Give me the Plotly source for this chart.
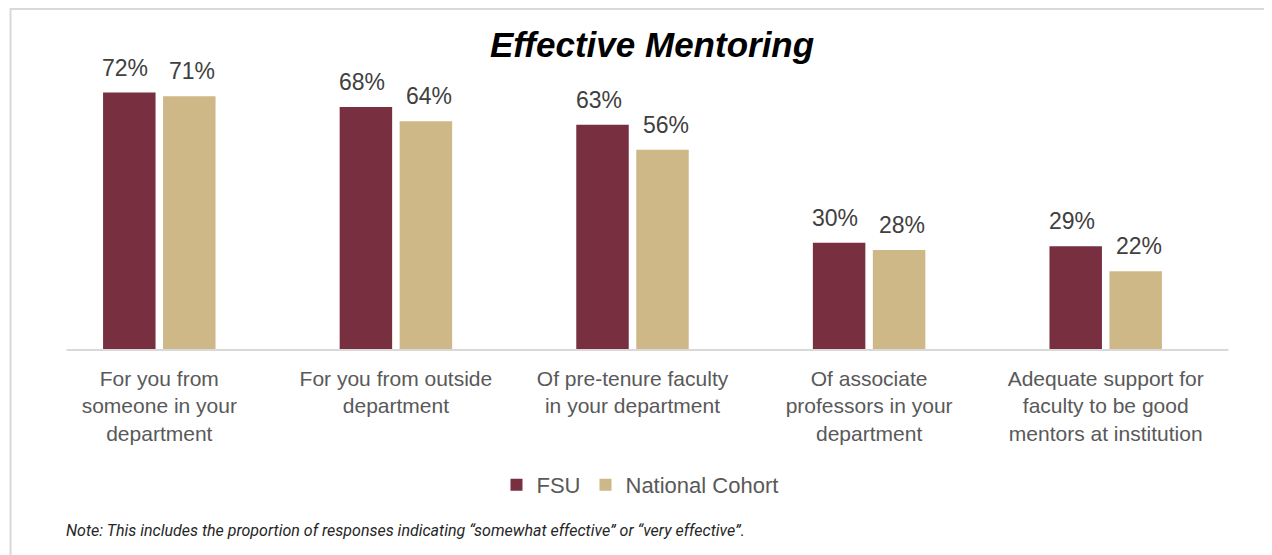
import plotly.graph_objects as go

categories = [
    "For you from<br>someone in your<br>department",
    "For you from outside<br>department",
    "Of pre-tenure faculty<br>in your department",
    "Of associate<br>professors in your<br>department",
    "Adequate support for<br>faculty to be good<br>mentors at institution",
]
fsu = [72, 68, 63, 30, 29]
national = [71, 64, 56, 28, 22]
series_names = ["FSU", "National Cohort"]
colors = ["#782F40", "#CEB888"]

# page has an 8px body margin; work in page pixel coordinates
OFF = 8
W, H = 1272 - OFF, 555 - OFF
PL, PR, PT, PB = 40.5, 1224.5, 64, 350  # plot area in page coords
L = PL - OFF
R = W - (PR - OFF)
T = PT - OFF
B = H - (PB - OFF)
pw, ph = PR - PL, PB - PT


def px_x(x):
    return (x - PL) / pw


def px_y(y):
    return (PB - y) / ph


FONT = "Liberation Sans, Arial, sans-serif"

fig = go.Figure()
for name, vals, col in zip(series_names, [fsu, national], colors):
    fig.add_trace(go.Bar(
        name=name, x=categories, y=vals, marker=dict(color=col, line=dict(width=0)),
    ))

annotations = []
for vals, shift in [(fsu, -34), (national, 33)]:
    for c, v in zip(categories, vals):
        annotations.append(dict(
            x=c, y=v, xref="x", yref="y", text=f"{v}%", showarrow=False,
            xshift=shift, yshift=10, yanchor="bottom",
            font=dict(size=23, color="#404040", family=FONT),
        ))

annotations.append(dict(
    x=px_x(652), y=px_y(45), xref="paper", yref="paper",
    text="<b><i>Effective Mentoring</i></b>", showarrow=False,
    xanchor="center", yanchor="middle",
    font=dict(size=35, color="#000000", family=FONT),
))
annotations.append(dict(
    x=px_x(64), y=px_y(530), xref="paper", yref="paper",
    text="<i>Note: This includes the proportion of responses indicating “somewhat effective” or “very effective”.</i>",
    showarrow=False, xanchor="left", yanchor="middle",
    font=dict(size=16, color="#262626", family="Roboto, Liberation Sans, sans-serif"),
))

shapes = [
    dict(type="rect", xref="paper", yref="paper",
         x0=px_x(10), x1=px_x(1290), y0=px_y(570), y1=px_y(9),
         line=dict(color="#D9D9D9", width=2), layer="below"),
    dict(type="line", xref="paper", yref="paper",
         x0=px_x(66), x1=px_x(1229), y0=0, y1=0,
         line=dict(color="#D9D9D9", width=2)),
]

fig.update_layout(
    width=W, height=H,
    margin=dict(l=L, r=R, t=T, b=B, autoexpand=False),
    paper_bgcolor="white", plot_bgcolor="white",
    barmode="group", bargap=0.493, bargroupgap=0.125,
    font=dict(family=FONT, color="#595959", size=21),
    xaxis=dict(showline=False, ticks="", showgrid=False,
               tickfont=dict(size=21, color="#595959"), ticklabelstandoff=14,
               range=[-0.5, 4.5]),
    yaxis=dict(visible=False, range=[0, 80], showgrid=False),
    legend=dict(orientation="h", x=px_x(640), y=px_y(485), xanchor="center",
                yanchor="middle", font=dict(size=22, color="#595959"),
                itemwidth=30, traceorder="normal"),
    annotations=annotations, shapes=shapes,
)

fig.write_html("out.html")
